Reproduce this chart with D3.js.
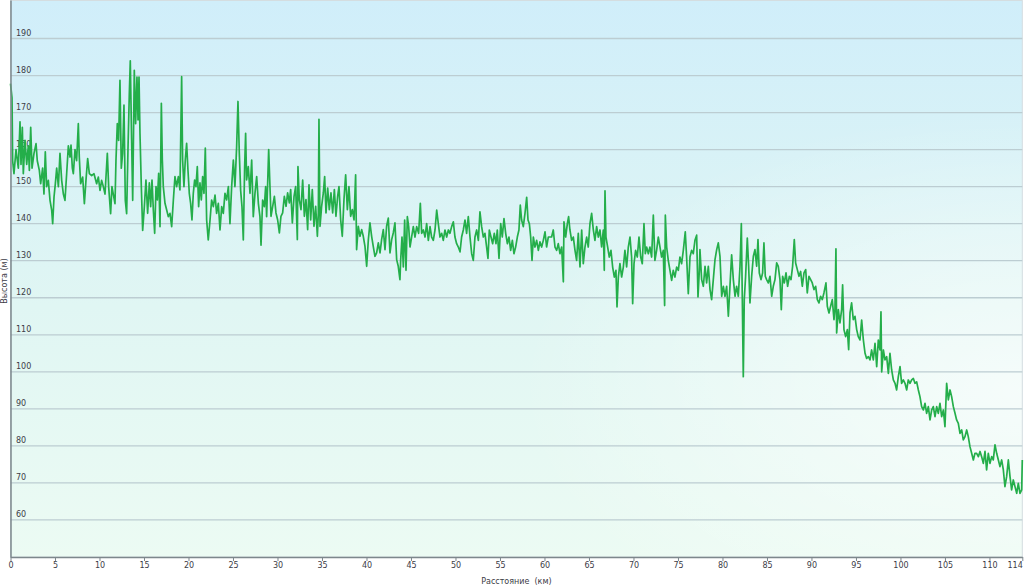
<!DOCTYPE html>
<html><head><meta charset="utf-8">
<script src="https://cdn.jsdelivr.net/npm/d3@7/dist/d3.min.js"></script>
<style>
html,body{margin:0;padding:0;background:#fff;}
svg{display:block;font-family:"DejaVu Sans",Verdana,sans-serif;}
</style></head>
<body>
<svg id="chart" width="1024" height="586"></svg>
<script>
// ---- data: [distance km, elevation m] ----
const profileA = [[0,177.8],[0.17,174],[0.24,157],[0.39,153.5],[0.62,160],[0.88,155],[1.07,167.5],[1.18,156],[1.33,166],[1.44,153.5],[1.63,162.5],[1.82,156],[2.00,161],[2.12,154.4],[2.27,166],[2.42,155],[2.64,159],[2.87,161.6],[3.01,157],[3.24,154.4],[3.39,150.8],[3.61,155],[3.76,148],[3.91,159.4],[4.06,150],[4.25,151.7],[4.44,146.3],[4.63,143.6],[4.74,140],[4.89,147.2],[5.04,150.8],[5.19,155],[5.38,150],[5.56,159],[5.75,151.7],[5.94,148],[6.12,146.3],[6.31,153.5],[6.50,161],[6.69,158],[6.80,161.2],[6.95,155],[7.06,153.5],[7.25,160],[7.43,157],[7.62,167],[7.73,158],[7.88,150.8],[8.11,152.6],[8.30,145.4],[8.48,151.7],[8.67,157.6],[8.86,153.5],[9.12,153],[9.38,153.5],[9.68,150.8],[9.87,152.6],[10.06,149],[10.24,151.7],[10.43,150],[10.62,148],[10.88,159],[11.03,150],[11.25,142.7],[11.40,150],[11.55,148],[11.74,145.4],[11.85,157],[12.00,167],[12.15,162.5],[12.30,178.7],[12.45,155],[12.60,159],[12.75,172],[12.90,146.3],[13.05,142.7],[13.20,160],[13.35,175],[13.46,184],[13.61,162.5],[13.73,146.3],[13.91,181.4],[14.06,167],[14.21,179.6],[14.33,168],[14.44,179.6],[14.55,164.3],[14.70,150],[14.85,138.2]];
const profileB = [[15.04,144.6],[15.22,151.8],[15.41,142.8],[15.60,151],[15.75,144.6],[15.90,151.8],[16.05,143.7],[16.20,137.4],[16.35,150],[16.50,146.4],[16.65,153.6],[16.80,139.2],[16.95,172.5],[17.06,157.2],[17.17,150],[17.36,145.5],[17.55,143.7],[17.73,141.9],[17.92,142.8],[18.11,139.2],[18.30,146.4],[18.48,152.7],[18.67,150],[18.86,152.7],[19.04,149.1],[19.23,179.7],[19.34,157.2],[19.49,150],[19.64,157.2],[19.79,161.7],[19.94,154.5],[20.09,148.2],[20.24,145.5],[20.39,141],[20.54,148.2],[20.69,151.8],[20.84,150],[20.99,155.4],[21.14,144.6],[21.29,151],[21.44,146.4],[21.59,152.7],[21.74,148.2],[21.89,160.4],[22.04,141],[22.22,135.6],[22.42,141],[22.60,146.4],[22.79,144.6],[22.98,147.7],[23.16,142.8],[23.35,145.5],[23.54,138.3],[23.73,144.6],[23.91,142.8],[24.10,148.2],[24.29,146.4],[24.48,150],[24.66,140],[24.85,150],[25.04,157.2],[25.22,150],[25.41,160.8],[25.56,173],[25.71,159],[25.86,149],[26.01,144.6],[26.16,135.6],[26.31,155.4],[26.42,164.4],[26.53,151.8],[26.72,155.4],[26.91,148.2],[27.10,157.2],[27.28,141.9],[27.47,148.2],[27.66,152.7],[27.85,145.5],[28.03,141.9],[28.15,134.2],[28.33,146.4],[28.52,144.6],[28.67,150],[28.78,141.9],[29.01,160]];
const profileC = [[29.27,142],[29.46,144.7],[29.65,147.4],[29.83,142.9],[30.02,141],[30.21,137.5],[30.39,142],[30.58,142.9],[30.77,147.4],[30.96,144.7],[31.14,148.3],[31.33,145.6],[31.48,149.2],[31.67,140.2],[31.86,147.4],[32.04,150],[32.23,135.7],[32.30,155.4],[32.45,146.5],[32.64,143.8],[32.83,151.8],[33.02,142],[33.20,146.5],[33.39,138.4],[33.54,150.5],[33.73,141],[33.91,149.2],[34.10,139.3],[34.29,144.7],[34.48,136.6],[34.59,142.9],[34.66,168.2],[34.78,139.3],[34.96,144.7],[35.15,148.3],[35.30,152.7],[35.45,142.9],[35.64,149.6],[35.82,143.8],[36.01,148.3],[36.20,142.9],[36.39,149.2],[36.57,142],[36.76,147.4],[36.91,150],[37.10,141],[37.28,136.6],[37.47,146.5],[37.66,153.2],[37.85,143.8],[38.03,150],[38.22,142],[38.41,143.8],[38.60,141],[38.78,153.2],[38.89,133],[39.08,139.3],[39.27,136.6],[39.46,138.4],[39.64,136.6],[39.83,133.9],[40.02,128.5],[40.21,135.7],[40.39,140.2],[40.58,136.6],[40.76,133.9],[40.95,131.2],[41.14,132.1],[41.33,134.8],[41.52,132.1],[41.70,135.7],[41.89,138.4],[42.08,133],[42.26,139.3],[42.45,141.5],[42.64,132.1],[42.83,135.7],[43.01,137.5],[43.20,140.2],[43.39,130.3],[43.57,128.5],[43.76,124.9]];
const profileD = [[43.84,130.1],[43.99,136.4],[44.14,128.3],[44.29,141],[44.44,127.4],[44.59,141.9],[44.74,139.2],[44.89,133.7],[45.07,136.4],[45.26,139.2],[45.45,136.4],[45.64,139.2],[45.86,137.4],[46.05,145.5],[46.20,137.4],[46.39,138.3],[46.58,136.4],[46.76,140],[46.95,135.5],[47.14,139.2],[47.32,136.4],[47.51,135.5],[47.70,138.3],[47.89,143.7],[48.07,140],[48.26,136.4],[48.45,137.4],[48.63,135.5],[48.82,138.3],[49.01,136.4],[49.20,138.3],[49.38,137.4],[49.57,139.2],[49.76,140.5],[49.94,136.4],[50.13,134.6],[50.32,133.7],[50.51,132.4],[50.69,136.4],[50.88,138.3],[51.07,141],[51.25,137.4],[51.44,141.9],[51.63,136.4],[51.82,131.9],[52.00,130.1],[52.19,136.4],[52.38,138.3],[52.57,135.5],[52.75,143.2],[52.94,139.2],[53.13,136.4],[53.31,137.4],[53.50,133.7],[53.65,130.6],[53.80,138.3],[53.99,136.4],[54.18,134.6],[54.36,137.4],[54.55,134.6],[54.70,138.3],[54.89,130.6],[55.08,140],[55.26,136.4],[55.45,141.4],[55.64,137.4],[55.83,134.6],[56.01,136.4],[56.20,132.8],[56.39,135.5],[56.57,131.9],[56.76,133.7],[56.95,136.4],[57.13,138.3],[57.28,145],[57.43,141],[57.62,139.2],[57.81,142.8],[58.00,147.1],[58.15,141],[58.30,140],[58.45,136.4],[58.60,130.1],[58.75,136.4],[58.93,133.7],[59.12,135.5],[59.31,132.8],[59.49,135.1],[59.68,133.7],[59.87,135.5],[60.06,137.8],[60.24,133.7],[60.43,136.4],[60.62,136.4]];
const profileE = [[60.80,136.4],[60.99,138.3],[61.18,133.7],[61.37,132.8],[61.55,134.6],[61.74,131.9],[61.93,133.7],[62.12,124.3],[62.19,140.5],[62.38,136.4],[62.57,140],[62.71,141.9],[62.86,138.3],[63.05,135.5],[63.24,136.4],[63.43,132.8],[63.61,130.1],[63.80,137.4],[63.99,128.3],[64.18,138.3],[64.36,129.2],[64.55,133.7],[64.74,136.4],[64.92,133.7],[65.11,140],[65.30,142.8],[65.49,138.3],[65.67,135.5],[65.86,139.2],[66.05,136.4],[66.24,138.3],[66.42,133.7],[66.61,138.3],[66.72,127.4],[66.80,148.9],[66.91,136.4],[67.10,133.7],[67.28,131],[67.47,132.8],[67.66,128.3],[67.85,125.6],[68.03,127.4],[68.15,117.5],[68.30,125.6],[68.48,129.2],[68.67,125.6],[68.86,128.3],[69.04,132.8],[69.23,128.3],[69.42,133.7],[69.61,136.4],[69.79,131],[69.91,118.4],[70.06,129.2],[70.24,132.8],[70.43,131],[70.62,136.4],[70.81,131],[70.99,129.2],[71.18,140],[71.33,131.9],[71.48,133.7],[71.67,131.9],[71.85,133.7],[72.04,131],[72.23,142.3],[72.41,130.1],[72.60,132.8],[72.79,136.4],[72.98,133.7],[73.16,131],[73.35,132.8],[73.50,117.9],[73.58,142.3],[73.73,133.7],[73.91,130.1],[74.10,127.4],[74.29,124.7],[74.47,127.4],[74.66,125.6],[74.85,128.3],[75.04,127.4],[75.22,131],[75.41,129.2],[75.60,132.8],[75.82,137.8],[75.97,131],[76.16,121.1],[76.35,131],[76.53,132.8],[76.72,131.9],[76.91,135.5],[77.10,136.9],[77.25,120.2],[77.40,127.4]];
const profileF = [[77.47,133],[77.66,124.9],[77.85,123.1],[78.04,128.5],[78.22,124],[78.41,128.5],[78.60,122.2],[78.78,119.5],[78.97,124.9],[79.16,130.3],[79.35,133],[79.53,134.8],[79.72,131.2],[79.91,120.4],[80.10,123.1],[80.28,120.4],[80.47,123.1],[80.66,115],[80.84,123.1],[81.03,131.6],[81.22,124.9],[81.41,120.4],[81.59,123.1],[81.78,120.4],[81.97,128.5],[82.12,140],[82.23,119.5],[82.34,98.7],[82.45,119.5],[82.60,125.8],[82.79,136.1],[82.94,128.5],[83.09,118.6],[83.28,125.8],[83.47,131.2],[83.65,133],[83.84,128.5],[83.99,135.7],[84.14,126.7],[84.33,124.9],[84.51,126.7],[84.66,134.8],[84.81,125.8],[84.96,124.9],[85.15,124],[85.34,125.8],[85.53,120.4],[85.71,123.1],[85.90,124.9],[86.09,129.4],[86.27,128.5],[86.46,124.9],[86.61,116.8],[86.76,125.8],[86.95,124],[87.14,126.7],[87.32,123.1],[87.51,125.8],[87.70,124.9],[87.88,128.5],[88.07,135.7],[88.22,129.4],[88.41,127.6],[88.60,125.8],[88.78,127.1],[88.97,123.1],[89.16,126.7],[89.35,127.6],[89.53,121.3],[89.72,125.8],[89.91,124.9],[90.09,124],[90.28,122.2],[90.47,123.1],[90.66,119.5],[90.84,118.6],[91.03,120.4],[91.22,119.5],[91.40,121.3],[91.63,124],[91.78,117.7],[91.97,115.9],[92.15,117.7],[92.34,119.5],[92.53,114.1],[92.64,116.8],[92.75,133.2],[92.83,110.5],[93.02,116.8],[93.20,113.2],[93.39,116.8],[93.50,123.5],[93.65,111.4],[93.84,109.5],[94.03,111.4],[94.18,106],[94.33,115.9],[94.51,118.6],[94.70,114.1],[94.89,115],[95.08,111.4],[95.26,109.5],[95.45,108.6]];
const profileG = [[95.64,114],[95.83,108.6],[96.02,105],[96.20,103.6],[96.39,104.1],[96.58,103.2],[96.76,105.9],[96.95,103.2],[97.14,107.7],[97.33,101.4],[97.51,108.6],[97.70,105.9],[97.81,116.2],[97.89,100],[98.08,105.9],[98.26,103.2],[98.45,104.1],[98.64,99.6],[98.82,105],[99.01,100.5],[99.20,97.8],[99.39,96.9],[99.57,95.1],[99.76,98.7],[99.95,101.4],[100.13,96.9],[100.32,97.8],[100.51,96.9],[100.70,95.1],[100.88,97.8],[101.07,96.9],[101.26,97.8],[101.45,98.2],[101.63,96.9],[101.82,97.3],[102.01,95.1],[102.19,93.3],[102.38,90.6],[102.57,89.7],[102.76,91.5],[102.94,88.8],[103.13,90.6],[103.32,87],[103.51,89.7],[103.69,90.6],[103.88,87.9],[104.07,90.6],[104.25,88.8],[104.44,91.5],[104.63,87.9],[104.82,89.7],[105.00,85.2],[105.19,96.9],[105.38,92.4],[105.57,95.1],[105.75,93.3],[105.94,90.6],[106.13,88.8],[106.31,87],[106.50,86.1],[106.69,83.4],[106.88,84.3],[107.06,81.6],[107.25,82.5],[107.44,84.3],[107.62,82.5],[107.81,79.8],[108.00,78],[108.19,76.2],[108.37,78],[108.56,78],[108.75,77.1],[108.94,78.5],[109.12,77.1],[109.31,75.3],[109.50,78.5],[109.68,73.5],[109.87,78],[110.06,75.3],[110.25,77.1],[110.43,76.2],[110.62,80.3],[110.81,78],[111.00,76.2],[111.18,74.4],[111.37,76.2],[111.56,73.5],[111.74,69],[111.93,71.7],[112.12,76.2],[112.31,71.7],[112.49,68.1],[112.68,70.8],[112.87,69],[113.06,67.2],[113.24,69.9],[113.43,67.2],[113.62,68.1],[113.69,76.2]];

const xTicks = [0,5,10,15,20,25,30,35,40,45,50,55,60,65,70,75,80,85,90,95,100,105,110];
const xEnd = 113.69;
const xEndLabel = "114";
const yTicks = [60,70,80,90,100,110,120,130,140,150,160,170,180,190];
const xTitle = "Расстояние  (км)";
const yTitle = "Высота (м)";

const profile = [].concat(profileA, profileB, profileC, profileD, profileE, profileF, profileG);

// ---- layout ----
const svg = d3.select("#chart");
const L = 10.5, R = 1022.3, T = 0.5, B = 557;
const x = d3.scaleLinear().domain([0, xEnd]).range([L, R]);
const y = d3.scaleLinear().domain([50, 200.4]).range([B, 0]);

const defs = svg.append("defs");
const vg = defs.append("linearGradient").attr("id","bgv").attr("x1",0).attr("y1",0).attr("x2",0).attr("y2",1);
vg.append("stop").attr("offset","0%").attr("stop-color","#d0eefa");
vg.append("stop").attr("offset","55%").attr("stop-color","#e0f6f3");
vg.append("stop").attr("offset","100%").attr("stop-color","#ecfbf3");
const rg = defs.append("radialGradient").attr("id","glow").attr("cx","1").attr("cy","0.7").attr("r","0.5")
  .attr("gradientUnits","objectBoundingBox");
rg.append("stop").attr("offset","0%").attr("stop-color","#ffffff").attr("stop-opacity",0.65);
rg.append("stop").attr("offset","100%").attr("stop-color","#ffffff").attr("stop-opacity",0);

svg.append("rect").attr("x",L).attr("y",T).attr("width",R-L).attr("height",B-T).attr("fill","url(#bgv)");
svg.append("rect").attr("x",L).attr("y",T).attr("width",R-L).attr("height",B-T).attr("fill","url(#glow)");
svg.append("rect").attr("x",L).attr("y",T).attr("width",R-L).attr("height",B-T)
  .attr("fill","none").attr("stroke","#d4dde0").attr("stroke-width",1);

// gridlines + y labels
const grid = svg.append("g");
grid.selectAll("line").data(yTicks).join("line")
  .attr("x1",L).attr("x2",R)
  .attr("y1",d=>y(d)).attr("y2",d=>y(d))
  .attr("stroke","#bccdd2").attr("stroke-width",1.3);
grid.selectAll("text").data(yTicks).join("text")
  .attr("x",16).attr("y",d=>y(d)-2.5)
  .attr("font-size","8px").attr("fill","#3c3c46")
  .text(d=>d);

// line
svg.append("path").datum(profile)
  .attr("fill","none").attr("stroke","#24ae4a").attr("stroke-width",1.7)
  .attr("stroke-linejoin","round")
  .attr("d", d3.line().x(d=>x(d[0])).y(d=>y(d[1])));

// axes
const xAxis = d3.axisBottom(x).tickValues(xTicks.concat([xEnd]))
  .tickFormat(d => d === xEnd ? xEndLabel : d).tickSize(4).tickSizeOuter(0);
const gx = svg.append("g").attr("transform",`translate(0,${B})`).call(xAxis);
gx.select(".domain").attr("stroke","#7d878c").attr("stroke-width",1.5);
gx.selectAll(".tick line").attr("stroke","#7d878c");
gx.selectAll(".tick text").attr("font-size","8px").attr("fill","#3c3c46")
  .attr("font-family","DejaVu Sans, Verdana, sans-serif").attr("dy","0.6em").attr("y",6);
gx.selectAll(".tick").filter(d => d === xEnd).select("text")
  .attr("text-anchor","end").attr("x",0);

const yAxis = d3.axisLeft(y).tickValues([]).tickSizeOuter(0);
const gy = svg.append("g").attr("transform",`translate(${L},0)`).call(yAxis);
gy.select(".domain").attr("stroke","#7d878c").attr("stroke-width",1.5);

// titles
svg.append("text").attr("x",(L+R)/2).attr("y",584).attr("text-anchor","middle")
  .attr("font-size","8px").attr("fill","#3c3c46").style("white-space","pre").text(xTitle);
svg.append("text").attr("transform",`translate(7,${281}) rotate(-90)`).attr("text-anchor","middle")
  .attr("font-size","8px").attr("fill","#3c3c46").text(yTitle);
</script>
</body></html>
